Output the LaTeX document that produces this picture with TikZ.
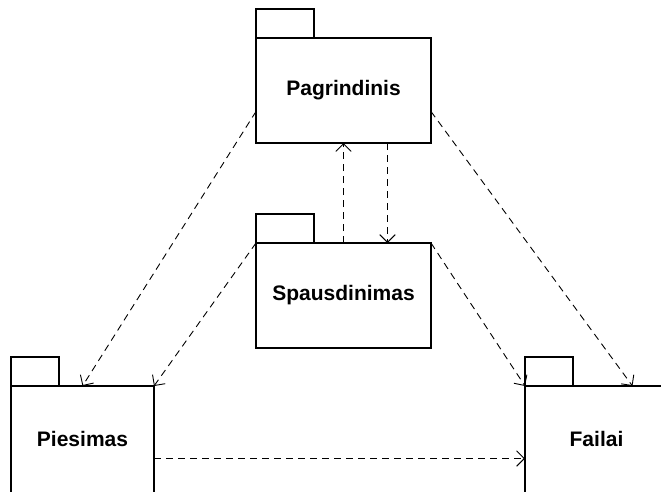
\documentclass[tikz,border=0pt]{standalone}
\usepackage{fontspec}
\setmainfont{Liberation Sans}
\usetikzlibrary{arrows.meta, calc}
\tikzset{
	package style/.style={
		draw,
		rectangle,
		line width=1.5pt,
		minimum width=175pt,
		minimum height=105pt,
		inner sep=0pt,
		outer sep=0pt,
		font=\fontsize{21}{25}\selectfont\bfseries
	},
	small package style/.style={
		package style,
		minimum width=143pt,
		minimum height=125pt,
		text depth=20pt
	},
	tab style/.style={
		draw,
		line width=1.5pt
	},
	dependency style/.style={
		line width=0.9pt,
		dash pattern=on 7pt off 5pt,
		-{Straight Barb[angle=90:11pt]}
	}
}

\begin{document}
\begin{tikzpicture}[x=1pt, y=-1pt]
		
		% --- 1. Frame of the picture ---
		\useasboundingbox (0,0) rectangle (661,491);
		\clip (0,0) rectangle (661,491);
		
		% --- 2. Package bodies ---
		% the lower two run past the bottom edge
		\node[package style] (pagr) at (343.5,90.5) {Pagrindinis};
		\node[package style] (spaus) at (343.5,295.5) {Spausdinimas};
		\node[small package style] (pies) at (82.5,448.5) {Piesimas};
		\node[small package style] (fail) at (596.5,448.5) {Failai};
		
		% --- 3. Package tabs ---
		\draw[tab style] (pagr.north west) rectangle ++(58,-29);
		\draw[tab style] (spaus.north west) rectangle ++(58,-29);
		\draw[tab style] (pies.north west) rectangle ++(48,-29);
		\draw[tab style] (fail.north west) rectangle ++(48,-29);
		
		% --- 4. Dependencies ---
		\draw[dependency style] ($(pagr.west)+(0,21)$) -- (pies.north);
		\draw[dependency style] (spaus.north west) -- (pies.north east);
		\draw[dependency style] (spaus.north) -- (pagr.south);
		\draw[dependency style] ($(pagr.south)+(44,0)$) -- ($(spaus.north)+(44,0)$);
		\draw[dependency style] ($(pagr.east)+(0,21)$) -- ($(fail.north)+(36,0)$);
		\draw[dependency style] (spaus.north east) -- (fail.north west);
		\draw[dependency style] ($(pies.east)+(0,10)$) -- ($(fail.west)+(0,10)$);
		
	\end{tikzpicture}
\end{document}
